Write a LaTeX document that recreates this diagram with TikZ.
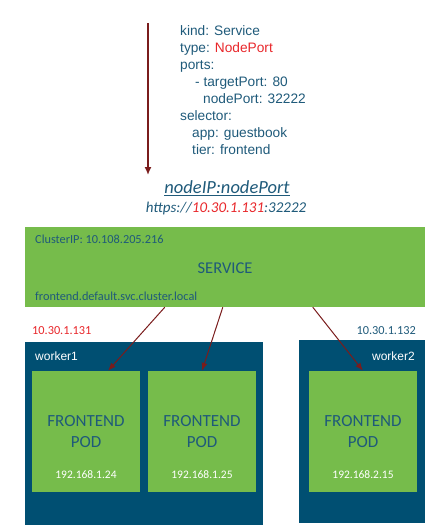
\documentclass[tikz,border=0pt]{standalone}
\usepackage{fontspec}
\setmainfont{Liberation Sans}
\newfontfamily\calibri{Carlito}
\usetikzlibrary{arrows.meta}
\definecolor{svcgreen}{HTML}{76BC4B}
\definecolor{nodeblue}{HTML}{004F72}
\definecolor{textblue}{HTML}{1F5A7A}
\definecolor{ipred}{HTML}{E8262A}
\definecolor{arrowred}{HTML}{7A1C1C}
\tikzset{
  svcbox/.style  = {rectangle, fill=svcgreen, minimum width=400pt, minimum height=80pt, inner sep=0pt},
  worker/.style  = {rectangle, fill=nodeblue, minimum height=183pt, inner sep=0pt},
  pod/.style     = {rectangle, fill=svcgreen, minimum width=108pt, minimum height=121pt, inner sep=0pt,
                    align=center, text=textblue, font=\calibri\fontsize{17}{21}\selectfont},
  podip/.style   = {inner sep=0pt, text=white, font=\calibri\fontsize{11.5}{13}\selectfont},
  wlabel/.style  = {inner sep=0pt, text=white, font=\fontsize{12}{14}\selectfont},
  svctext/.style = {inner sep=0pt, text=textblue, font=\calibri\fontsize{12.3}{14}\selectfont},
  flow/.style    = {-{Latex[length=8pt,width=6pt]}, arrowred, line width=1pt},
}

\begin{document}
\begin{tikzpicture}[x=1pt,y=-1pt]
  \useasboundingbox (0,0) rectangle (429,525);

  % service spec
  \node[inner sep=0pt, anchor=north west, align=left, text=textblue,
        font=\fontsize{13.7}{17}\selectfont] (spec) at (180,25)
    {kind: Service\\
     type: \textcolor{ipred}{NodePort}\\
     ports:\\
     \hspace*{15pt}- targetPort: 80\\
     \hspace*{23pt}nodePort: 32222\\
     selector:\\
     \hspace*{12pt}app: guestbook\\
     \hspace*{12pt}tier: frontend};
  \coordinate (top) at (148,23);
  \coordinate (down) at (148,175);
  \draw[-{Latex[length=8pt,width=7pt]}, arrowred, line width=1.5pt] (top) -- (down);

  \node[inner sep=0pt, text=textblue, font=\calibri\itshape\fontsize{18.5}{21}\selectfont]
    (nodeip) at (227,188) {\underline{nodeIP:nodePort}};
  \node[inner sep=0pt, text=textblue, font=\calibri\itshape\fontsize{15}{18}\selectfont]
    (url) at (226,208) {https://\textcolor{ipred}{10.30.1.131}:32222};

  % service
  \node[svcbox] (svc) at (225,267) {};
  \node[svctext, anchor=west] (cip) at (35,239) {ClusterIP: 10.108.205.216};
  \node[svctext, font=\calibri\fontsize{16.5}{19}\selectfont] (svcname) at (225,268) {SERVICE};
  \node[svctext, anchor=west] (dns) at (35,296) {frontend.default.svc.cluster.local};

  % workers
  \node[svctext, anchor=west, text=ipred] (ip1) at (32,331) {10.30.1.131};
  \node[svctext, anchor=east] (ip2) at (416,331) {10.30.1.132};
  \node[worker, minimum width=238pt] (w1) at (144,433.5) {};
  \node[worker, minimum width=126pt] (w2) at (362,431.5) {};
  \node[wlabel, anchor=west] (w1name) at (35,356) {worker1};
  \node[wlabel, anchor=east] (w2name) at (415,356) {worker2};

  % pods
  \node[pod] (pod1) at (86,431.5)  {FRONTEND\\POD};
  \node[pod] (pod2) at (202,431.5) {FRONTEND\\POD};
  \node[pod] (pod3) at (363,431.5) {FRONTEND\\POD};
  \node[podip] (pip1) at ([yshift=18pt]pod1.south) {192.168.1.24};
  \node[podip] (pip2) at ([yshift=18pt]pod2.south) {192.168.1.25};
  \node[podip] (pip3) at ([yshift=18pt]pod3.south) {192.168.2.15};

  \draw[flow] ([xshift=140pt]svc.south west) -- ([xshift=22pt]pod1.north);
  \draw[flow] ([xshift=198pt]svc.south west) -- (pod2.north);
  \draw[flow] ([xshift=288pt]svc.south west) -- (pod3.north);
\end{tikzpicture}
\end{document}
